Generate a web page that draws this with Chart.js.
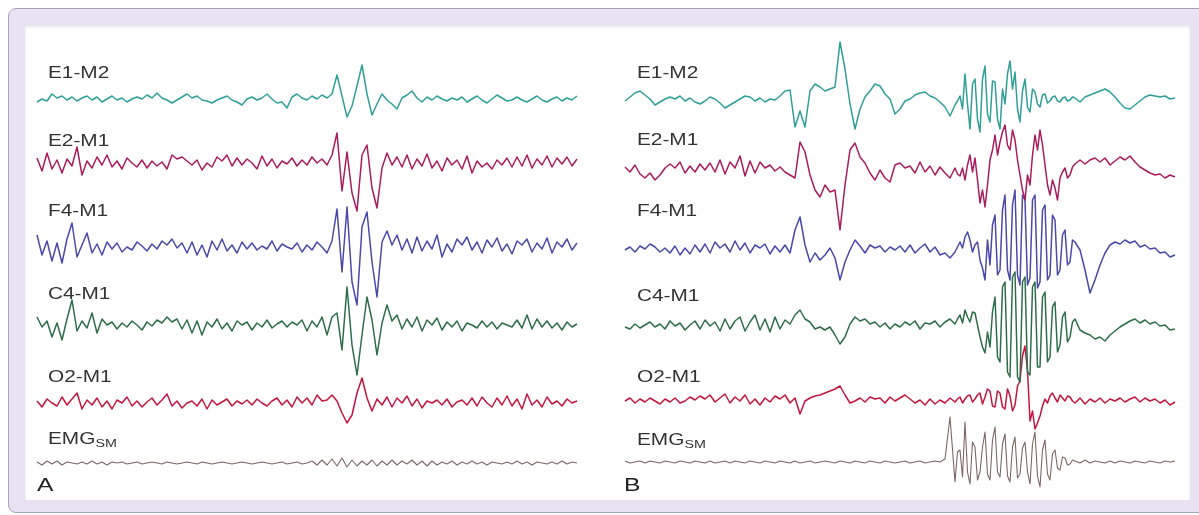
<!DOCTYPE html>
<html>
<head>
<meta charset="utf-8">
<script src="https://cdn.jsdelivr.net/npm/chart.js@4.4.1/dist/chart.umd.min.js"></script>
<style>
  body { margin: 0; width: 1199px; height: 515px; overflow: hidden; position: relative; background: #fff;
         font-family: Arial, "Liberation Sans", sans-serif; }
  #frame { position: absolute; left: 8px; top: 8px; width: 1210px; height: 505px; box-sizing: border-box;
           background: #e8e2f2; border: 1px solid #a9a2ba; border-radius: 8px; }
  #inner { position: absolute; left: 25px; top: 25px; width: 1165px; height: 475px; background: #fff;
           box-shadow: inset 0 2px 3px rgba(120,110,140,0.18); }
  canvas { position: absolute; top: 25px; }
  .lbl { position: absolute; font-size: 16px; line-height: 16px; color: #333; white-space: nowrap;
         transform-origin: 0 50%; transform: translateY(-50%) scaleX(1.3); }
  .lbl sub { font-size: 11px; vertical-align: -3px; }
  .tag { font-size: 19px; line-height: 19px; color: #222; }
</style>
</head>
<body>
<div id="frame"></div>
<div id="inner"></div>
<canvas id="panelA" width="575" height="475" style="left:25px"></canvas>
<canvas id="panelB" width="590" height="475" style="left:600px"></canvas>

<script>
// ── CHANNELS ─────────────────────────────────────────
const channels = ['E1-M2', 'E2-M1', 'F4-M1', 'C4-M1', 'O2-M1', 'EMG'];
const colors   = ['#2f9f98', '#a81c5e', '#4a48a8', '#2d6e4a', '#c2163f', '#7b6864'];

// ── PANEL A: deflection of each trace per sample (up = positive) ──
const aE1M2 = [-2,1,-1,6,2,4,0,3,-1,2, 4,0,3,-2,1,4,0,2,-2,1, 3,1,5,2,7,2,0,-3,0,3,
  6,2,4,0,-1,-3,0,2,4,0, -2,-5,1,3,0,2,6,1,-3,-2, -8,3,6,2,0,4,1,5,2,6,
  25,4,-17,-6,14,35,6,-15,-4,6, 0,-4,-9,2,5,9,2,-2,3,0, 4,1,-1,2,0,3,-2,1,4,0,
  -3,1,5,2,-1,0,3,0,-2,1, 4,0,-2,1,3,-1,2,0,4];
const aE2M1 = [5,-8,10,-6,3,-10,4,-3,16,-12, 2,-5,6,-2,8,-4,2,-6,5,0, -4,3,-5,2,-3,1,-6,8,4,6,
  2,-2,3,-7,0,-4,6,2,8,-3, 5,-2,4,0,-6,7,-3,4,-5,2, -1,5,-3,3,-2,6,0,4,-2,8,
  30,-28,11,-30,-48,8,18,-25,-45,-5, 10,-2,6,-4,8,-6,4,-3,9,-5, 2,-8,5,-2,3,-6,7,-10,2,-4,
  0,-6,3,-2,5,-4,6,-3,8,-5, 4,-2,7,-4,5,-1,6,-3,4];
const aF4M1 = [12,-8,6,-14,4,-16,8,24,-10,2, 14,-6,3,-8,5,-2,4,-5,0,-3, 5,1,-4,3,-2,6,2,8,-1,4,
  -6,5,-8,2,-10,6,-3,8,-4,2, -6,5,-2,4,-3,1,-2,6,-4,3, 0,-2,4,-5,2,-3,5,0,-6,6,
  38,-25,40,-35,-58,20,35,-15,-50,5, 16,2,12,-3,8,-6,10,-4,6,-2, 12,-10,3,-5,8,2,10,-3,5,-6,
  7,0,9,-4,3,-7,6,2,8,-5, 4,-2,9,-6,5,0,8,-3,4];
const aC4M1 = [8,-2,4,-12,2,-15,6,25,-6,4, -3,12,-8,6,0,3,-4,2,-2,4, 0,-5,3,-1,5,2,8,3,6,-4,
  5,-8,4,-10,3,-2,6,-4,2,-6, 4,0,3,-5,2,-2,5,-3,1,4, -2,3,0,5,-6,4,-2,8,-10,8,
  12,-25,38,-20,-50,-10,28,5,-30,2, 20,4,10,-4,6,-2,8,-6,5,0, 7,-5,3,-2,4,-6,2,0,-3,4,
  -2,3,-4,2,0,-2,5,-3,10,-4, 6,-2,4,-3,2,-5,3,-2,1];
const aO2M1 = [2,-4,4,0,-3,6,-2,4,10,-6, 3,-2,5,-4,2,-6,3,0,6,-3, 2,-4,1,5,-2,3,9,-3,2,-5,
  0,2,-3,4,-6,3,-2,1,4,-3, 2,-1,3,-2,4,0,-3,2,5,-2, 3,-4,6,0,5,-2,8,2,3,8,
  2,-10,-20,-12,10,25,5,-8,4,-2, 6,-4,5,0,7,-3,4,-5,2,0, 3,-2,4,-4,1,3,-2,5,-3,6,
  0,-4,5,-2,7,-3,4,-6,9,-2, 3,-4,6,-1,2,-3,4,0,2];
const aEMG  = [1,-2,2,-1,2,-2,1,0,-1,1, -1,2,-1,1,-2,1,0,1,-1,0, 1,-1,0,1,0,-1,1,0,-1,0,
  1,0,-1,1,0,-1,0,1,0,-1, 0,1,0,-1,0,1,0,-1,0,1, -1,0,1,-1,0,2,-2,3,-2,4,
  -3,5,-4,3,-3,2,-2,3,-3,2, -2,3,-2,2,-1,3,-2,2,-3,2, -2,1,-1,2,-2,1,-1,2,-1,1,
  -2,1,0,-1,1,-1,2,-1,1,-2, 1,0,-1,1,-1,2,-1,1,0];

// ── PANEL B ──────────────────────────────────────────
const bE1M2 = [-2,2,6,8,4,0,-6,-3,0,2, 0,3,-2,1,-3,-5,-2,2,0,-4, -9,-6,-3,0,3,2,-2,1,-3,0,
  -1,3,8,9,-28,-12,-28,8,15,12, 8,10,12,57,30,-5,-30,-10,2,8, 15,13,5,0,-15,-10,-2,0,4,6,
  7,3,1,-3,-8,-17,-6,3,25,-30, 20,-33,33,-23,17,-30,-5,38,27,-23, 20,-13,7,-8,5,-2,3,-3,2,-1,
  1,-3,2,4,6,8,10,7,2,-4, -9,-10,-6,-2,2,4,3,2,3,0,1];
const bE2M1 = [3,-2,5,-4,-8,-3,-10,-5,2,6, 2,8,-3,4,-2,6,0,7,-2,10, -4,8,2,14,-6,9,-3,8,2,5,
  -1,3,-2,-5,-8,28,18,-5,-20,-27, -15,-22,-20,-60,-15,20,27,13,7,-3, -10,0,-8,-12,5,7,2,4,-3,8,
  -2,4,-5,3,-3,-8,2,-6,-10,15, 12,-33,-37,10,35,28,45,20,30,-5, -30,-15,35,40,5,-25,-18,-8,2,-5,
  6,10,6,10,12,8,12,5,9,13, 10,14,8,3,0,-3,-5,-4,-8,-5,-7];
const bF4M1 = [0,3,-2,4,1,6,3,-2,2,-3, 4,-5,2,-4,5,-2,6,-3,8,2, 6,-2,9,0,7,-3,5,2,6,-4,
  4,-2,5,-3,20,33,5,-12,-3,-10, -5,2,-8,-30,-12,0,10,4,-3,5, 2,4,-2,3,0,4,-2,5,-3,2,
  6,-2,3,-5,-3,-8,-2,8,13,10, 5,-10,-30,-15,35,-20,55,-30,60,-35, 50,-28,55,-32,45,-25,30,-20,20,-12,
  8,0,-20,-43,-30,-15,-3,5,8,6, 10,7,9,3,5,1,2,-3,-2,-7,-5];
const bC4M1 = [0,-2,3,-1,2,5,0,3,-2,6, 1,4,-3,2,6,-2,7,1,5,-4, 8,-2,6,10,-4,5,12,-3,8,-5,
  10,-2,7,3,12,17,8,5,-2,0, -3,0,-8,-17,-10,3,10,6,8,3, 5,0,4,-2,3,0,5,2,6,-2,
  4,3,6,0,5,8,3,12,17,5, 14,-10,-26,-20,30,-35,45,-50,55,-55, 50,-48,45,-40,35,-30,25,-18,15,-10,
  8,-3,-6,-8,-12,-10,-14,-8,-4,0, 3,6,8,4,7,3,5,1,2,-3,-2];
const bO2M1 = [0,3,-2,2,-1,3,0,-3,2,-1, 3,-2,0,4,1,5,2,6,-1,3, 7,-2,4,0,6,-3,2,-4,3,-1,
  5,2,6,-2,3,-13,0,3,5,6, 8,10,12,15,6,-2,0,3,-1,4, 2,3,-2,4,0,3,6,2,-2,1,
  -4,2,-3,1,-2,3,-1,4,2,6, 2,8,4,10,-6,8,-8,5,-4,20, 55,-20,-28,-15,2,5,3,6,0,4,
  -2,3,-3,2,-1,3,-2,2,0,3, -1,2,4,-1,3,0,2,-2,1,-4,-1];
const bEMG  = [1,-1,0,1,-1,1,0,-1,1,0, -1,1,0,-1,1,0,-1,1,-1,0, 1,-1,1,0,-1,1,0,-1,1,0,
  -1,1,0,-1,1,-1,0,1,-1,0, 1,0,-1,1,0,-1,1,0,-1,1, 0,-1,1,0,-1,0,1,-1,0,1,
  -1,0,1,0,3,45,-20,12,40,-22, 15,-10,30,-18,35,-15,28,-20,25,-12, 20,-22,30,-25,22,-18,12,-8,4,-2,
  1,-1,2,-1,1,0,-1,1,-1,1, 0,-1,1,0,-1,1,0,-1,1,0,1];

// Extra half-step samples inside the arousal burst of panel B (sample 66.5 .. 89.5)
const bMidStart = 66.5;
const bE1M2Mid = [-2,-10,-5,15,-20,20,-15,18,-20,10,25,10,-10,8,-8,10,-5,4,-4,2,-2,1,-2,2];
const bE2M1Mid = [-4,2,5,-2,-10,-20,-15,20,15,38,25,40,10,-20,-5,15,20,25,-15,-10,-30,-2,-8,3];
const bF4M1Mid = [3,2,18,-2,8,-18,10,25,-25,40,-20,45,-25,55,-35,50,-38,40,-30,35,-25,15,-15,10];
const bC4M1Mid = [8,4,10,15,2,-20,-5,15,-30,40,-45,50,-50,45,-45,40,-40,30,-35,20,-25,10,-15,5];
const bO2M1Mid = [2,-2,5,-1,6,-3,12,-5,10,-6,12,-10,15,45,30,-10,-22,-5,-2,8,-1,3,5,0];
const bEMGMid  = [10,-15,-10,20,-18,15,-12,22,-10,18,-14,15,-16,14,-10,18,-14,12,-12,8,-6,5,-3,2];

const panelA = [aE1M2, aE2M1, aF4M1, aC4M1, aO2M1, aEMG];
const panelB = [bE1M2, bE2M1, bF4M1, bC4M1, bO2M1, bEMG];
const panelBMid = [bE1M2Mid, bE2M1Mid, bF4M1Mid, bC4M1Mid, bO2M1Mid, bEMGMid];

// ── LAYOUT (page pixels) ─────────────────────────────
const canvasTop = 25, canvasH = 475;
const layoutA = { left: 25, width: 575, x0: 37, step: 5, base: [100, 163, 247, 325, 403, 463],
                  labelX: 48, labelY: [73, 141, 211, 294, 377, 441], tag: 'A', tagX: 37 };
const layoutB = { left: 600, width: 590, x0: 625, step: 5, base: [99, 170, 250, 327, 401, 462],
                  labelX: 637, labelY: [73, 140, 211, 296, 377, 442], tag: 'B', tagX: 624 };

function buildPanel(id, traces, extra, lay) {
  const datasets = traces.map((vals, k) => {
    const shift = lay.base[k] - canvasTop;
    let pts = vals.map((v, i) => ({ x: i, y: v - shift }));
    if (extra) {
      extra[k].forEach((v, j) => pts.push({ x: bMidStart + j, y: v - shift }));
      pts.sort((p, q) => p.x - q.x);
    }
    return {
      label: channels[k],
      data: pts,
      borderColor: colors[k],
      borderWidth: k === 5 ? 1.1 : 1.5,
      pointRadius: 0,
      tension: 0,
      borderJoinStyle: 'round',
      order: k
    };
  });

  new Chart(document.getElementById(id), {
    type: 'line',
    data: { datasets: datasets },
    options: {
      responsive: false,
      animation: false,
      events: [],
      parsing: false,
      layout: { padding: 0 },
      plugins: { legend: { display: false }, tooltip: { enabled: false } },
      scales: {
        x: { type: 'linear', display: false,
             min: (lay.left - lay.x0) / lay.step,
             max: (lay.left + lay.width - lay.x0) / lay.step },
        y: { display: false, min: -canvasH, max: 0 }
      }
    }
  });

  // channel names + panel letter
  channels.forEach((name, k) => {
    const d = document.createElement('div');
    d.className = 'lbl';
    d.innerHTML = name === 'EMG' ? 'EMG<sub>SM</sub>' : name;
    d.style.left = lay.labelX + 'px';
    d.style.top = lay.labelY[k] + 'px';
    document.body.appendChild(d);
  });
  const t = document.createElement('div');
  t.className = 'lbl tag';
  t.textContent = lay.tag;
  t.style.left = lay.tagX + 'px';
  t.style.top = '484px';
  document.body.appendChild(t);
}

buildPanel('panelA', panelA, null, layoutA);
buildPanel('panelB', panelB, panelBMid, layoutB);
</script>
</body>
</html>
